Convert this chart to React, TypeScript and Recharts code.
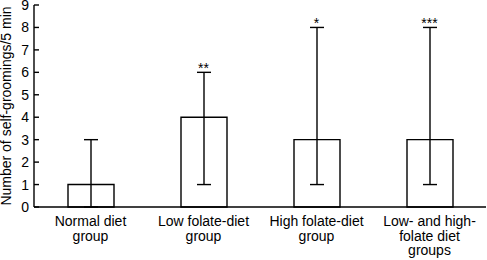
import { BarChart, Bar, XAxis, YAxis, ErrorBar, ReferenceDot } from "recharts";

const categories = [
  "Normal diet\ngroup",
  "Low folate-diet\ngroup",
  "High folate-diet\ngroup",
  "Low- and high-\nfolate diet\ngroups",
];
const medians = [1, 4, 3, 3];
const rangeLow = [0, 1, 1, 1];
const rangeHigh = [3, 6, 8, 8];
const marks = ["", "**", "*", "***"];
const yTicks = [0, 1, 2, 3, 4, 5, 6, 7, 8, 9];
const groupEdges = [1, 2, 3, 4];

const data = categories.map((name, i) => ({
  name,
  value: medians[i],
  err: [medians[i] - rangeLow[i], rangeHigh[i] - medians[i]],
}));

const FONT = "'Liberation Sans', Arial, Helvetica, sans-serif";

function CategoryTick(props: any) {
  const { x, y, payload } = props;
  const lines = String(payload.value).split("\n");
  return (
    <text
      x={x}
      y={y}
      textAnchor="middle"
      fill="#000"
      fontSize={14}
      fontFamily={FONT}
    >
      {lines.map((line, i) => (
        <tspan key={i} x={x} dy={i === 0 ? 19 : 14.5}>
          {line}
        </tspan>
      ))}
    </text>
  );
}

export default function App() {
  return (
    <div style={{ position: "absolute", left: 0, top: 0, background: "#fff" }}>
      <BarChart
        width={487}
        height={260}
        data={data}
        margin={{ top: 5, right: 1, bottom: 0, left: 0 }}
        barSize={46}
      >
        <XAxis
          xAxisId="edges"
          type="number"
          domain={[0, 4]}
          ticks={groupEdges}
          height={0}
          axisLine={false}
          tick={false}
          tickSize={-5}
          tickLine={{ stroke: "#000", strokeWidth: 1.4 }}
        />
        <XAxis
          dataKey="name"
          height={53}
          interval={0}
          tickLine={false}
          tickSize={0}
          tickMargin={0}
          axisLine={{ stroke: "#000", strokeWidth: 1.4 }}
          tick={<CategoryTick />}
        />
        <YAxis
          width={34}
          domain={[0, 9]}
          ticks={yTicks}
          interval={0}
          tickSize={-5}
          tickMargin={10}
          axisLine={{ stroke: "#000", strokeWidth: 1.4 }}
          tickLine={{ stroke: "#000", strokeWidth: 1.4 }}
          tick={{ fill: "#000", fontSize: 14, fontFamily: FONT }}
          label={{
            value: "Number of self-groomings/5 min",
            angle: -90,
            position: "insideLeft",
            offset: 0,
            dx: 6,
            style: { fill: "#000", fontSize: 14, fontFamily: FONT, textAnchor: "middle" },
          }}
        />
        <Bar
          dataKey="value"
          fill="#fff"
          stroke="#000"
          strokeWidth={1.4}
          isAnimationActive={false}
        >
          <ErrorBar
            dataKey="err"
            direction="y"
            width={7}
            stroke="#000"
            strokeWidth={1.4}
            isAnimationActive={false}
          />
        </Bar>
        {categories.map((c, i) =>
          marks[i] ? (
            <ReferenceDot
              key={c}
              x={c}
              y={rangeHigh[i]}
              r={0}
              stroke="none"
              fill="none"
              label={{
                value: marks[i],
                position: "top",
                offset: -1,
                style: { fill: "#000", fontSize: 14, fontFamily: FONT },
              }}
            />
          ) : null
        )}
      </BarChart>
    </div>
  );
}
